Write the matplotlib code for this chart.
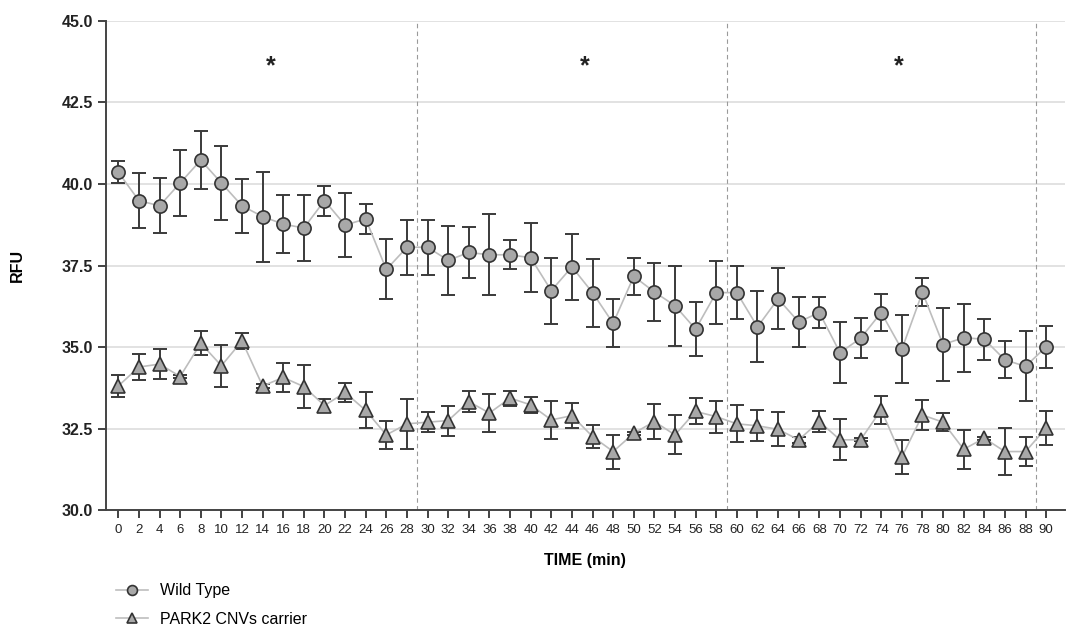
import numpy as np
import matplotlib
matplotlib.use('Agg')
import matplotlib.pyplot as plt

plt.rcParams['font.family'] = ['Liberation Sans', 'DejaVu Sans']

# time points (min)
time = list(range(0, 92, 2))

# Wild Type mean and error
wt_mean = [40.36, 39.49, 39.33, 40.03, 40.73, 40.03, 39.33, 39.00, 38.77, 38.65,
           39.49, 38.74, 38.93, 37.38, 38.06, 38.06, 37.66, 37.90, 37.83, 37.83,
           37.74, 36.73, 37.46, 36.67, 35.73, 37.17, 36.69, 36.27, 35.55, 36.67,
           36.67, 35.62, 36.48, 35.77, 36.06, 34.83, 35.27, 36.06, 34.93, 36.68,
           35.08, 35.29, 35.24, 34.61, 34.41, 35.01]
wt_err = [0.34, 0.85, 0.84, 1.00, 0.89, 1.13, 0.83, 1.38, 0.88, 1.01,
          0.46, 0.97, 0.45, 0.92, 0.84, 0.84, 1.06, 0.79, 1.24, 0.44,
          1.06, 1.01, 1.02, 1.04, 0.73, 0.57, 0.89, 1.23, 0.82, 0.96,
          0.81, 1.09, 0.93, 0.78, 0.47, 0.94, 0.61, 0.57, 1.04, 0.43,
          1.13, 1.04, 0.63, 0.57, 1.07, 0.65]

# PARK2 CNVs carrier mean and error
pk_mean = [33.81, 34.39, 34.48, 34.10, 35.12, 34.43, 35.19, 33.81, 34.07, 33.79,
           33.21, 33.61, 33.06, 32.31, 32.65, 32.70, 32.75, 33.33, 32.98, 33.44,
           33.23, 32.77, 32.90, 32.26, 31.80, 32.36, 32.72, 32.31, 33.03, 32.87,
           32.65, 32.59, 32.48, 32.16, 32.72, 32.16, 32.16, 33.08, 31.63, 32.92,
           32.70, 31.87, 32.21, 31.80, 31.80, 32.52]
pk_err = [0.35, 0.39, 0.47, 0.05, 0.37, 0.64, 0.25, 0.05, 0.44, 0.67,
          0.20, 0.30, 0.55, 0.43, 0.77, 0.31, 0.46, 0.32, 0.57, 0.23,
          0.25, 0.58, 0.39, 0.36, 0.52, 0.05, 0.54, 0.60, 0.40, 0.49,
          0.57, 0.47, 0.52, 0.10, 0.32, 0.63, 0.05, 0.43, 0.53, 0.46,
          0.27, 0.59, 0.05, 0.72, 0.44, 0.53]

dividers = [29, 59, 89]
star_x = [14.75, 45.25, 75.75]

fig = plt.figure(figsize=(10.92, 6.3), dpi=100)
ax = fig.add_axes([0.097, 0.19, 0.878, 0.777])

line_col = '#bdbdbd'
face_col = '#a8a8a8'
edge_col = '#333333'

ax.errorbar(time, wt_mean, yerr=wt_err, fmt='none', ecolor='#3a3a3a',
            elinewidth=1.4, capsize=5, capthick=1.4, zorder=3)
ax.errorbar(time, pk_mean, yerr=pk_err, fmt='none', ecolor='#3a3a3a',
            elinewidth=1.4, capsize=5, capthick=1.4, zorder=3)
ax.plot(time, wt_mean, '-o', color=line_col, lw=1.2, ms=9.5,
        mfc=face_col, mec=edge_col, mew=1.2, zorder=4, label='Wild Type')
ax.plot(time, pk_mean, '-^', color=line_col, lw=1.2, ms=9.5,
        mfc=face_col, mec=edge_col, mew=1.2, zorder=4, label='PARK2 CNVs carrier')

for d in dividers:
    ax.axvline(d, color='#9a9a9a', lw=0.8, ls=(0, (4, 3)), zorder=1)
for sx in star_x:
    ax.text(sx, 43.6, '*', ha='center', va='center', fontsize=18,
            fontweight='bold', color='#222222')

ax.set_xlim(-1.2, 91.8)
ax.set_ylim(30, 45)
ax.set_yticks(np.arange(30, 45.1, 2.5))
ax.set_yticklabels([f'{v:.1f}' for v in np.arange(30, 45.1, 2.5)],
                   fontsize=11.5, fontweight='bold')
ax.set_xticks(time)
ax.set_xticklabels([str(t) for t in time], fontsize=9.5,
                   family=['Liberation Sans Narrow', 'Liberation Sans'])
ax.yaxis.grid(True, color='#dddddd', lw=1.2, zorder=0)
ax.set_axisbelow(True)

for s in ['top', 'right']:
    ax.spines[s].set_visible(False)
for s in ['left', 'bottom']:
    ax.spines[s].set_color('#444444')
    ax.spines[s].set_linewidth(1.4)
ax.tick_params(axis='both', colors='#222222', length=6, width=1.2, direction='out')
ax.tick_params(axis='x', pad=4)

ax.set_ylabel('RFU', fontsize=11.5, fontweight='bold', labelpad=26)
ax.set_xlabel('TIME (min)', fontsize=11.5, fontweight='bold', labelpad=12)

fig.legend(loc='upper left', bbox_to_anchor=(0.1, 0.084), frameon=False,
           fontsize=11.5, handlelength=2.0, labelspacing=0.85, borderaxespad=0,
           markerscale=0.75)

fig.savefig('out.png', dpi=100, facecolor='white')
